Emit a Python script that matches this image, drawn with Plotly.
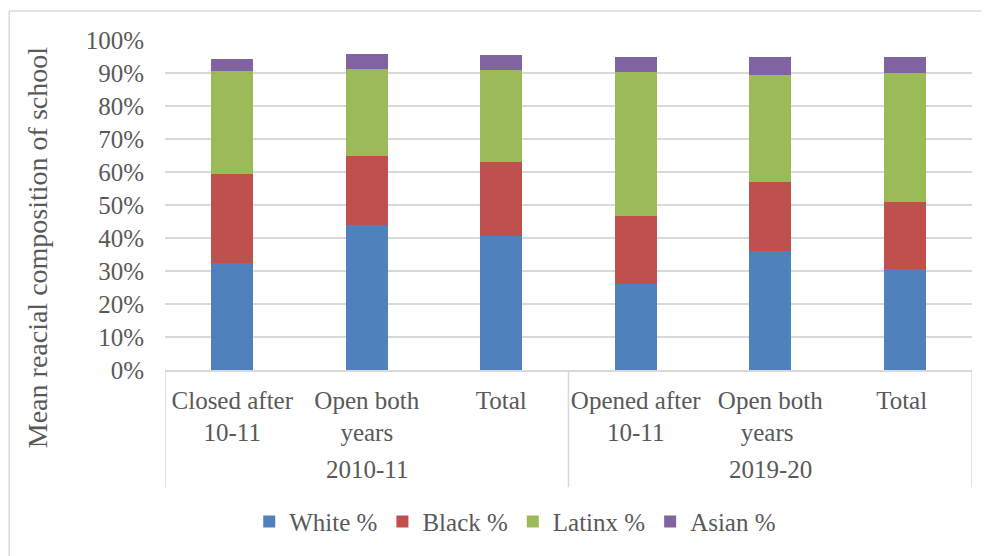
import plotly.graph_objects as go

years = ["2010-11", "2010-11", "2010-11", "2019-20", "2019-20", "2019-20"]
groups = ["Closed after<br>10-11", "Open both<br>years", "Total",
          "Opened after<br>10-11", "Open both<br>years ", "Total "]

white = [32.5, 44.0, 40.5, 26.0, 36.2, 30.6]
black = [27.0, 20.7, 22.6, 20.7, 20.8, 20.4]
latinx = [31.0, 26.4, 27.8, 43.7, 32.4, 38.9]
asian = [3.8, 4.6, 4.5, 4.4, 5.4, 4.9]

series = [("White %", white, "#4F81BD"),
          ("Black %", black, "#C0504D"),
          ("Latinx %", latinx, "#9BBB59"),
          ("Asian %", asian, "#8064A2")]

font_family = "Liberation Serif"
grey = "#595959"
gridc = "#D9D9D9"

fig = go.Figure()
for name, vals, color in series:
    fig.add_trace(go.Bar(x=groups,
                         y=[v / 100 for v in vals],
                         name=name,
                         marker_color=color,
                         marker_line_width=0))

# page body adds 8px offset, margins compensate for it
fig.update_layout(barmode="stack",
                  bargap=0.69,
                  width=989, height=556,
                  margin={"l": 157, "r": 25, "t": 32, "b": 194},
                  paper_bgcolor="white", plot_bgcolor="white",
                  font={"family": font_family, "size": 25, "color": grey},
                  legend={"orientation": "h", "x": 0.434, "xanchor": "center",
                          "y": -0.46, "yanchor": "middle",
                          "font": {"size": 25, "color": grey},
                          "itemwidth": 30, "traceorder": "normal"},
                  showlegend=True)

fig.update_yaxes(range=[0, 1], dtick=0.1, tickformat=".0%",
                 showgrid=True, gridcolor=gridc, gridwidth=1.5,
                 zeroline=False, showline=False, automargin=False,
                 ticklabelstandoff=20)
fig.update_xaxes(type="category", showline=True, linecolor=gridc,
                 linewidth=1.5, tickfont={"size": 25, "color": grey},
                 ticklabelstandoff=7, range=[-0.5, len(groups) - 0.5],
                 tickangle=0, automargin=False, showgrid=False)

# year group labels and dividers below the axis
year_names = list(dict.fromkeys(years))
for yr in year_names:
    idx = [i for i, y in enumerate(years) if y == yr]
    fig.add_annotation(text=yr, xref="x", yref="paper",
                       x=(idx[0] + idx[-1]) / 2, y=-0.303,
                       xanchor="center", yanchor="middle", showarrow=False,
                       font={"size": 25, "color": grey})
    fig.add_shape(type="line", xref="x", yref="paper",
                  x0=idx[0] - 0.5, x1=idx[0] - 0.5, y0=0, y1=-0.355,
                  line={"color": gridc, "width": 1.5})
fig.add_shape(type="line", xref="x", yref="paper",
              x0=len(years) - 0.5, x1=len(years) - 0.5, y0=0, y1=-0.355,
              line={"color": gridc, "width": 1.5})

fig.add_annotation(text="Mean reacial composition of school",
                   xref="paper", yref="paper", x=-0.157, y=0.37,
                   xanchor="center", yanchor="middle",
                   textangle=-90, showarrow=False,
                   font={"size": 28, "color": grey})

# chart border (left and top edges)
fig.add_shape(type="line", xref="paper", yref="paper",
              x0=-0.193, x1=1.1, y0=1.088, y1=1.088,
              line={"color": gridc, "width": 1.5})
fig.add_shape(type="line", xref="paper", yref="paper",
              x0=-0.193, x1=-0.193, y0=-0.6, y1=1.088,
              line={"color": gridc, "width": 1.5})

fig.write_html("out.html")
